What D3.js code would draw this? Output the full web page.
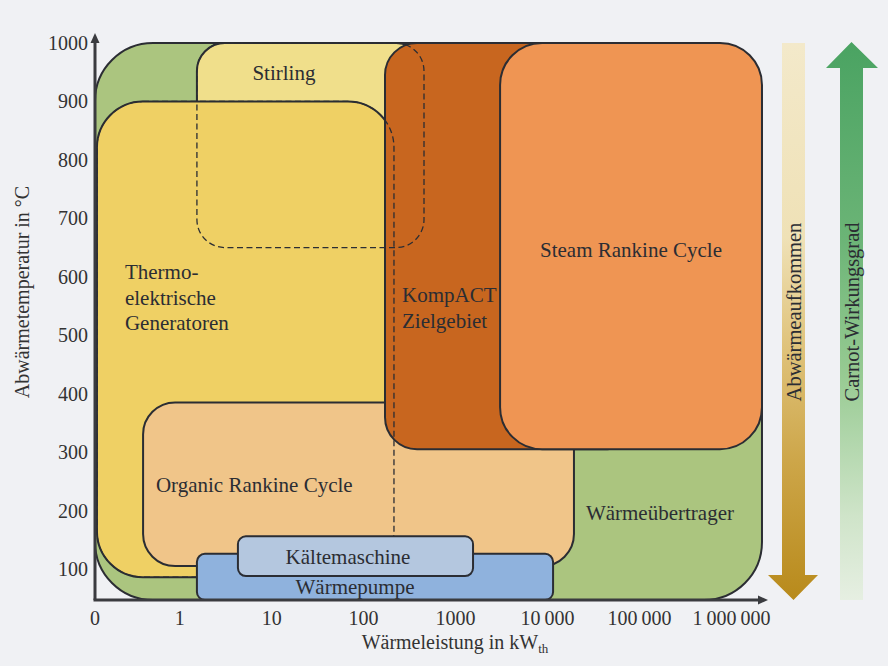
<!DOCTYPE html>
<html><head><meta charset="utf-8">
<script src="https://cdn.jsdelivr.net/npm/d3@7"></script>
<style>body{margin:0;background:#f0f1f4;} svg{display:block;}</style>
</head><body><svg id="c" width="888" height="666"></svg>
<script>
// ---------- data ----------
const categories = ["Wärmeübertrager","Stirling","Thermoelektrische Generatoren","Organic Rankine Cycle","KompACT Zielgebiet","Steam Rankine Cycle","Wärmepumpe","Kältemaschine"];
const powerMin = [0.12, 1.54, 0.126, 0.40, 171, 3050, 1.54, 4.3];      // kW_th
const powerMax = [2.15e6, 454, 214, 19400, 1e5, 2.15e6, 11500, 1550];  // kW_th
const tempMin  = [47, 650, 86, 105, 305, 305, 47, 88];                  // °C
const tempMax  = [1000, 1000, 900, 385, 1000, 1000, 126, 156];          // °C
const labelLines = [["Wärmeübertrager"],["Stirling"],["Thermo-","elektrische","Generatoren"],["Organic Rankine Cycle"],["KompACT","Zielgebiet"],["Steam Rankine Cycle"],["Wärmepumpe"],["Kältemaschine"]];
const labelPower = [167000, 13.6, 0.254, 0.552, 262, 80900, 80.7, 67.7];
const labelTemp  = [196, 950, 565, 244, 547, 646, 69, 121];
const xTickValues = [0.12, 1, 10, 100, 1000, 1e4, 1e5, 1e6];
const xTickLabels = ["0","1","10","100","1000","10\u2009000","100\u2009000","1\u2009000\u2009000"];
const yTickValues = [100,200,300,400,500,600,700,800,900,1000];
const yTickLabels = ["100","200","300","400","500","600","700","800","900","1000"];
const arrowLabels = ["Abwärmeaufkommen","Carnot-Wirkungsgrad"];

// ---------- styles ----------
const fills = {
  "Wärmeübertrager":"#abc57f","Stirling":"#f0df8b","Thermoelektrische Generatoren":"#efd064",
  "Organic Rankine Cycle":"#f0c589","KompACT Zielgebiet":"#c8661f","Steam Rankine Cycle":"#ef9553",
  "Wärmepumpe":"#8fb2dd","Kältemaschine":"#b4c7df"};
const radii = {
  "Wärmeübertrager":58,"Stirling":28,"Thermoelektrische Generatoren":46,"Organic Rankine Cycle":32,
  "KompACT Zielgebiet":32,"Steam Rankine Cycle":42,"Wärmepumpe":8,"Kältemaschine":8};
const anchors = {"Thermoelektrische Generatoren":"start","Organic Rankine Cycle":"start","KompACT Zielgebiet":"start"};
const dashedOverlay = ["Stirling","Thermoelektrische Generatoren"];
const topLayer = ["Wärmepumpe","Kältemaschine"];
const FONT = "'Liberation Serif','Times New Roman',serif";
const INK = "#2b2d33";

const svg = d3.select("#c");
svg.append("rect").attr("width",888).attr("height",666).attr("fill","#f0f1f4");

const x = d3.scaleLog().domain([0.12, 2.5e6]).range([95, 768]);
const y = d3.scaleLinear().domain([47, 1000]).range([600, 43]);

const boxes = categories.map((c,i)=>({name:c, x0:powerMin[i], x1:powerMax[i], y0:tempMin[i], y1:tempMax[i], lines:labelLines[i], lx:labelPower[i], ly:labelTemp[i]}));

function drawBox(g, d, dashed){
  g.append("rect")
    .attr("x", x(d.x0)).attr("y", y(d.y1))
    .attr("width", x(d.x1)-x(d.x0)).attr("height", y(d.y0)-y(d.y1))
    .attr("rx", radii[d.name]).attr("ry", radii[d.name])
    .attr("fill", dashed ? "none" : fills[d.name])
    .attr("stroke", INK).attr("stroke-width", dashed ? 1.3 : 2)
    .attr("stroke-dasharray", dashed ? "6,3.5" : null);
}
const gBoxes = svg.append("g");
boxes.filter(d=>!topLayer.includes(d.name)).forEach(d=>drawBox(gBoxes,d,false));
boxes.filter(d=>dashedOverlay.includes(d.name)).forEach(d=>drawBox(gBoxes,d,true));
boxes.filter(d=>topLayer.includes(d.name)).forEach(d=>drawBox(gBoxes,d,false));

// labels
const gLab = svg.append("g").attr("font-family",FONT).attr("font-size",21).attr("fill",INK);
boxes.forEach(d=>{
  const n = d.lines.length, lh = 25.5;
  const t = gLab.append("text").attr("text-anchor", anchors[d.name]||"middle");
  d.lines.forEach((s,k)=>{
    t.append("tspan").attr("x", x(d.lx)).attr("y", y(d.ly) + (k-(n-1)/2)*lh).attr("dy","0.35em").text(s);
  });
});

// axes
const axisCol = "#3a3b3f";
svg.append("line").attr("x1",x.range()[0]).attr("y1",y.range()[0]).attr("x2",x.range()[0]).attr("y2",38)
  .attr("stroke",axisCol).attr("stroke-width",3);
svg.append("path").attr("d",`M${x.range()[0]-4.5},${43} L${x.range()[0]},${33} L${x.range()[0]+4.5},${43} Z`).attr("fill",axisCol);
svg.append("line").attr("x1",x.range()[0]-1.5).attr("y1",y.range()[0]).attr("x2",x.range()[1]-6).attr("y2",y.range()[0])
  .attr("stroke",axisCol).attr("stroke-width",3);
svg.append("path").attr("d",`M${x.range()[1]-10},${y.range()[0]-4.5} L${x.range()[1]},${y.range()[0]} L${x.range()[1]-10},${y.range()[0]+4.5} Z`).attr("fill",axisCol);

const gT = svg.append("g").attr("font-family",FONT).attr("font-size",20).attr("fill","#333");
xTickValues.forEach((v,i)=>{
  gT.append("text").attr("x",x(v)).attr("y",618).attr("dy","0.35em").attr("text-anchor","middle").text(xTickLabels[i]);
});
yTickValues.forEach((v,i)=>{
  gT.append("text").attr("x",88).attr("y",y(v)).attr("dy","0.35em").attr("text-anchor","end").text(yTickLabels[i]);
});
// axis titles
const xt = gT.append("text").attr("x",455).attr("y",649).attr("text-anchor","middle");
xt.append("tspan").text("Wärmeleistung in kW");
xt.append("tspan").attr("font-size",13).attr("dy",4).text("th");
gT.append("text").attr("transform","translate(29,292) rotate(-90)").attr("text-anchor","middle").text("Abwärmetemperatur in °C");

// right-hand trend arrows
const defs = svg.append("defs");
const g1 = defs.append("linearGradient").attr("id","gA").attr("x1",0).attr("y1",0).attr("x2",0).attr("y2",1);
[[0,"#f3e9ca"],[0.35,"#efe1b6"],[0.55,"#dfc27a"],[0.75,"#cda649"],[1,"#b88a1b"]].forEach(s=>g1.append("stop").attr("offset",s[0]).attr("stop-color",s[1]));
const g2 = defs.append("linearGradient").attr("id","gC").attr("x1",0).attr("y1",0).attr("x2",0).attr("y2",1);
[[0,"#4aa362"],[0.35,"#6bb476"],[0.6,"#98cb93"],[0.85,"#cfe4c9"],[1,"#e6efe2"]].forEach(s=>g2.append("stop").attr("offset",s[0]).attr("stop-color",s[1]));

const aTop = y(1000), aBot = y.range()[0];
// Abwärmeaufkommen: downward arrow
svg.append("path").attr("fill","url(#gA)")
  .attr("d",`M782,${aTop} L805,${aTop} L805,${aBot-25} L818,${aBot-25} L793.5,${aBot} L768,${aBot-25} L782,${aBot-25} Z`);
// Carnot: upward arrow
svg.append("path").attr("fill","url(#gC)")
  .attr("d",`M840,${aBot} L863,${aBot} L863,${aTop+25} L878,${aTop+25} L851.5,${aTop-1} L826,${aTop+25} L840,${aTop+25} Z`);
const gAL = svg.append("g").attr("font-family",FONT).attr("font-size",20.5).attr("fill",INK);
gAL.append("text").attr("transform","translate(793.5,312) rotate(-90)").attr("text-anchor","middle").attr("dy","0.35em").text(arrowLabels[0]);
gAL.append("text").attr("transform","translate(851.5,312) rotate(-90)").attr("text-anchor","middle").attr("dy","0.35em").text(arrowLabels[1]);
</script></body></html>
